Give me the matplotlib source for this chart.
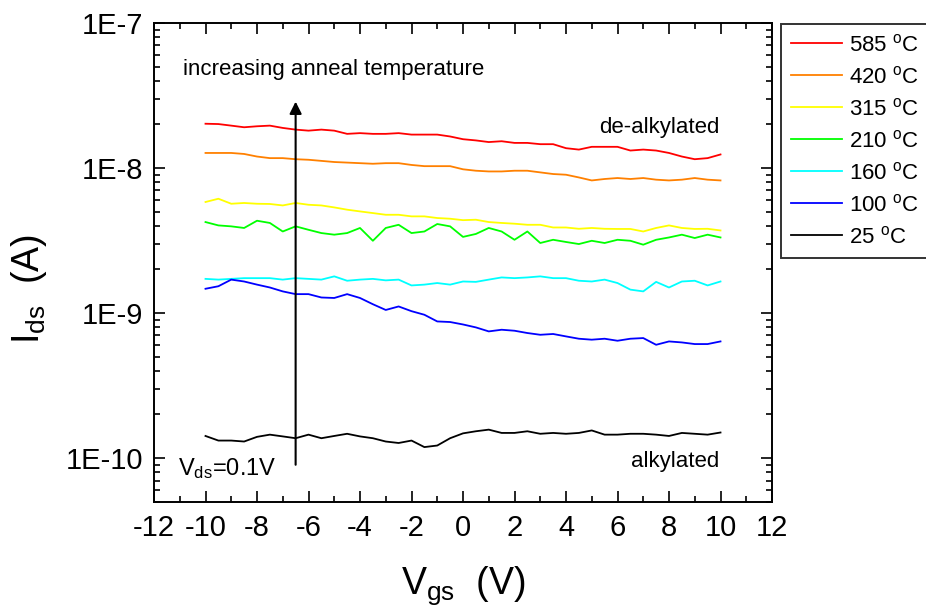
import matplotlib
matplotlib.use("Agg")
import matplotlib.pyplot as plt
from matplotlib.ticker import FixedLocator, LogLocator, NullFormatter, MultipleLocator
import numpy as np

plt.rcParams['font.family'] = ['Liberation Sans', 'DejaVu Sans']
plt.rcParams['mathtext.fontset'] = 'custom'
plt.rcParams['mathtext.rm'] = 'Liberation Sans'
plt.rcParams['mathtext.it'] = 'Liberation Sans'

# Gate voltage (V), 0.5 V steps from -10 to 10
vgs = [-10.0, -9.5, -9.0, -8.5, -8.0, -7.5, -7.0, -6.5, -6.0, -5.5, -5.0,
       -4.5, -4.0, -3.5, -3.0, -2.5, -2.0, -1.5, -1.0, -0.5, 0.0,
       0.5, 1.0, 1.5, 2.0, 2.5, 3.0, 3.5, 4.0, 4.5, 5.0,
       5.5, 6.0, 6.5, 7.0, 7.5, 8.0, 8.5, 9.0, 9.5, 10.0]

# Drain current (A) for each anneal temperature
i_585 = [2.02e-8, 2.01e-8, 1.96e-8, 1.91e-8, 1.94e-8, 1.96e-8, 1.89e-8, 1.84e-8, 1.81e-8, 1.84e-8, 1.81e-8,
         1.72e-8, 1.74e-8, 1.72e-8, 1.72e-8, 1.74e-8, 1.70e-8, 1.70e-8, 1.70e-8, 1.65e-8, 1.58e-8,
         1.55e-8, 1.51e-8, 1.53e-8, 1.49e-8, 1.49e-8, 1.46e-8, 1.46e-8, 1.37e-8, 1.34e-8, 1.40e-8,
         1.40e-8, 1.40e-8, 1.32e-8, 1.34e-8, 1.32e-8, 1.27e-8, 1.20e-8, 1.15e-8, 1.17e-8, 1.24e-8]
i_420 = [1.27e-8, 1.27e-8, 1.27e-8, 1.25e-8, 1.20e-8, 1.17e-8, 1.17e-8, 1.15e-8, 1.14e-8, 1.12e-8, 1.10e-8,
         1.09e-8, 1.08e-8, 1.07e-8, 1.08e-8, 1.08e-8, 1.05e-8, 1.03e-8, 1.03e-8, 1.03e-8, 9.80e-9,
         9.58e-9, 9.47e-9, 9.47e-9, 9.58e-9, 9.58e-9, 9.33e-9, 9.09e-9, 8.99e-9, 8.61e-9, 8.21e-9,
         8.40e-9, 8.53e-9, 8.40e-9, 8.53e-9, 8.31e-9, 8.21e-9, 8.31e-9, 8.53e-9, 8.31e-9, 8.21e-9]
i_315 = [5.83e-9, 6.14e-9, 5.67e-9, 5.74e-9, 5.67e-9, 5.65e-9, 5.52e-9, 5.74e-9, 5.58e-9, 5.52e-9, 5.35e-9,
         5.16e-9, 5.02e-9, 4.89e-9, 4.76e-9, 4.76e-9, 4.64e-9, 4.64e-9, 4.52e-9, 4.47e-9, 4.37e-9,
         4.40e-9, 4.24e-9, 4.18e-9, 4.13e-9, 4.06e-9, 4.06e-9, 3.89e-9, 3.89e-9, 3.81e-9, 3.86e-9,
         3.81e-9, 3.80e-9, 3.80e-9, 3.65e-9, 3.86e-9, 4.02e-9, 3.86e-9, 3.80e-9, 3.81e-9, 3.71e-9]
i_210 = [4.24e-9, 4.02e-9, 3.96e-9, 3.86e-9, 4.33e-9, 4.18e-9, 3.65e-9, 3.96e-9, 3.75e-9, 3.56e-9, 3.47e-9,
         3.56e-9, 3.86e-9, 3.15e-9, 3.86e-9, 4.06e-9, 3.56e-9, 3.65e-9, 4.11e-9, 3.96e-9, 3.35e-9,
         3.51e-9, 3.86e-9, 3.65e-9, 3.20e-9, 3.65e-9, 3.04e-9, 3.20e-9, 3.09e-9, 2.99e-9, 3.15e-9,
         3.04e-9, 3.20e-9, 3.15e-9, 2.96e-9, 3.20e-9, 3.32e-9, 3.47e-9, 3.29e-9, 3.47e-9, 3.32e-9]
i_160 = [1.72e-9, 1.70e-9, 1.72e-9, 1.74e-9, 1.74e-9, 1.74e-9, 1.70e-9, 1.74e-9, 1.72e-9, 1.70e-9, 1.79e-9,
         1.67e-9, 1.70e-9, 1.72e-9, 1.68e-9, 1.70e-9, 1.55e-9, 1.57e-9, 1.61e-9, 1.57e-9, 1.65e-9,
         1.64e-9, 1.70e-9, 1.76e-9, 1.74e-9, 1.76e-9, 1.79e-9, 1.74e-9, 1.74e-9, 1.67e-9, 1.65e-9,
         1.70e-9, 1.61e-9, 1.45e-9, 1.41e-9, 1.64e-9, 1.50e-9, 1.65e-9, 1.67e-9, 1.55e-9, 1.65e-9]
i_100 = [1.47e-9, 1.53e-9, 1.70e-9, 1.65e-9, 1.57e-9, 1.50e-9, 1.41e-9, 1.35e-9, 1.35e-9, 1.28e-9, 1.27e-9,
         1.35e-9, 1.27e-9, 1.15e-9, 1.05e-9, 1.11e-9, 1.03e-9, 9.73e-10, 8.75e-10, 8.67e-10, 8.34e-10,
         7.96e-10, 7.47e-10, 7.67e-10, 7.55e-10, 7.28e-10, 7.08e-10, 7.17e-10, 6.90e-10, 6.65e-10, 6.55e-10,
         6.65e-10, 6.44e-10, 6.65e-10, 6.72e-10, 6.04e-10, 6.37e-10, 6.27e-10, 6.11e-10, 6.11e-10, 6.37e-10]
i_25 = [1.42e-10, 1.32e-10, 1.32e-10, 1.30e-10, 1.40e-10, 1.45e-10, 1.41e-10, 1.37e-10, 1.45e-10, 1.37e-10, 1.42e-10,
        1.47e-10, 1.41e-10, 1.37e-10, 1.30e-10, 1.27e-10, 1.32e-10, 1.19e-10, 1.22e-10, 1.37e-10, 1.48e-10,
        1.53e-10, 1.57e-10, 1.49e-10, 1.49e-10, 1.53e-10, 1.47e-10, 1.49e-10, 1.47e-10, 1.49e-10, 1.55e-10,
        1.45e-10, 1.45e-10, 1.47e-10, 1.47e-10, 1.45e-10, 1.42e-10, 1.49e-10, 1.47e-10, 1.45e-10, 1.50e-10]

series = [i_585, i_420, i_315, i_210, i_160, i_100, i_25]
labels = ['585 $^{\\mathrm{o}}$C', '420 $^{\\mathrm{o}}$C', '315 $^{\\mathrm{o}}$C',
          '210 $^{\\mathrm{o}}$C', '160 $^{\\mathrm{o}}$C', '100 $^{\\mathrm{o}}$C', '25 $^{\\mathrm{o}}$C']
colors = ['#FF0000', '#FF8000', '#FFFF00', '#00FF00', '#00FFFF', '#0000FF', '#000000']

xticks = [-12, -10, -8, -6, -4, -2, 0, 2, 4, 6, 8, 10, 12]
yticks = [1e-10, 1e-9, 1e-8, 1e-7]
yticklabels = ['1E-10', '1E-9', '1E-8', '1E-7']

fig = plt.figure(figsize=(9.26, 6.16), dpi=100)
ax = fig.add_axes([154/926, 1-501.7/616, (772-154)/926, (501.7-23)/616])

for y, lab, c in zip(series, labels, colors):
    ax.plot(vgs, y, color=c, lw=1.3, label=lab)

ax.set_yscale('log')
ax.set_xlim(-12, 12)
ax.set_ylim(5e-11, 1e-7)
ax.xaxis.set_major_locator(FixedLocator(xticks))
ax.xaxis.set_minor_locator(MultipleLocator(1))
ax.set_xticklabels([str(t) for t in xticks])
ax.yaxis.set_major_locator(FixedLocator(yticks))
ax.set_yticklabels(yticklabels)
ax.yaxis.set_minor_locator(LogLocator(base=10, subs=np.arange(2, 10)))
ax.yaxis.set_minor_formatter(NullFormatter())

ax.tick_params(which='both', direction='in', top=True, right=True, width=1.2, labelsize=21)
ax.tick_params(axis='x', pad=9)
ax.tick_params(axis='y', pad=8)
ax.tick_params(which='major', length=8)
ax.tick_params(which='minor', length=4)
for s in ax.spines.values():
    s.set_linewidth(1.4)

ax.set_xlabel('V$_{\\mathrm{gs}}$  (V)', fontsize=27, labelpad=16)
ax.set_ylabel('I$_{\\mathrm{ds}}$  (A)', fontsize=27, labelpad=12, y=0.445)

ax.annotate('', xy=(-6.5, 3.0e-8), xytext=(-6.5, 8.6e-11),
            arrowprops=dict(arrowstyle='-|>', color='black', lw=1.5, mutation_scale=18))
ax.text(-10.87, 4.76e-8, 'increasing anneal temperature', fontsize=16, ha='left', va='center')
ax.text(9.95, 1.9e-8, 'de-alkylated', fontsize=16, ha='right', va='center')
ax.text(9.95, 9.4e-11, 'alkylated', fontsize=16, ha='right', va='center')
ax.text(-11.05, 8.5e-11, 'V$_{\\mathrm{ds}}$=0.1V', fontsize=17, ha='left', va='center')

leg = ax.legend(loc='upper left', bbox_to_anchor=(781/926, 1-24/616), bbox_transform=fig.transFigure,
                fontsize=16, frameon=True, fancybox=False, borderaxespad=0, handlelength=2.3,
                labelspacing=0.45, borderpad=0.45, handletextpad=0.3)
leg.get_frame().set_edgecolor('black')
leg.get_frame().set_linewidth(1.4)

fig.savefig('out.png', dpi=100)
